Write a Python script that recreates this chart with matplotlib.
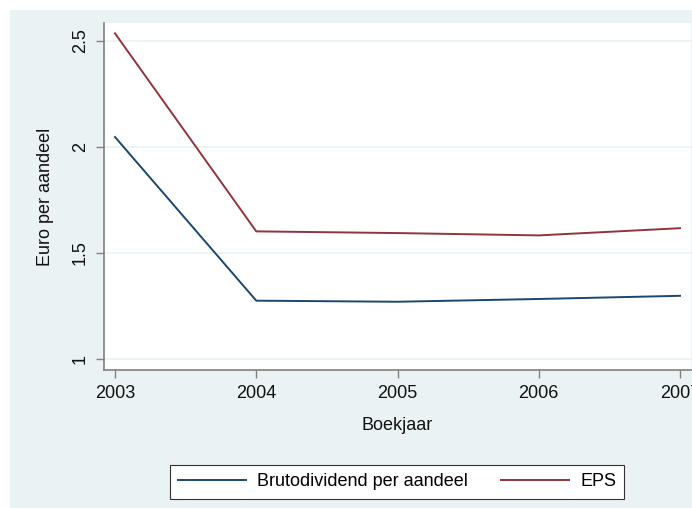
import matplotlib.pyplot as plt
from matplotlib.patches import Rectangle

plt.rcParams['font.family'] = ['Liberation Sans', 'DejaVu Sans']

years = [2003, 2004, 2005, 2006, 2007]
brutodividend = [2.047, 1.275, 1.270, 1.283, 1.298]
eps = [2.536, 1.602, 1.594, 1.583, 1.617]
yticks = [1, 1.5, 2, 2.5]
ytick_labels = ['1', '1.5', '2', '2.5']

navy = '#1a476f'
maroon = '#90353b'
bg = '#eaf2f3'
axis_grey = '#808080'

W, H = 692, 508
fig = plt.figure(figsize=(W / 100, H / 100), dpi=100, facecolor='white')

# Stata-like graph region (white strip at top and left)
fig.patches.append(Rectangle((10 / W, 0), 1, (H - 10) / H, transform=fig.transFigure,
                             facecolor=bg, edgecolor='none', zorder=-10))

left, right, top, bottom = 104, 691, 23, 370
ax = fig.add_axes([left / W, (H - bottom) / H, (right - left) / W, (bottom - top) / H])
ax.set_facecolor('white')
ax.set_zorder(1)

ax.plot(years, brutodividend, color=navy, lw=1.4, label='Brutodividend per aandeel')
ax.plot(years, eps, color=maroon, lw=1.4, label='EPS')

ax.set_xlim(2003 - 0.078, 2007 + 0.078)
ax.set_ylim(0.948, 2.585)
ax.set_xticks(years)
ax.set_yticks(yticks)
ax.set_yticklabels(ytick_labels, rotation=90, va='center')

ax.grid(axis='y', color=bg, lw=1.2)
ax.set_axisbelow(True)

for s in ['top', 'right']:
    ax.spines[s].set_visible(False)
for s in ['left', 'bottom']:
    ax.spines[s].set_color(axis_grey)
    ax.spines[s].set_linewidth(1.2)

ax.tick_params(axis='both', length=6, width=1, color=axis_grey, labelsize=13, labelcolor='#111111')
ax.tick_params(axis='y', pad=5)
ax.tick_params(axis='x', pad=5)

ax.set_xlabel('Boekjaar', fontsize=13, color='#111111')
ax.set_ylabel('Euro per aandeel', fontsize=13, color='#111111')
ax.xaxis.set_label_coords(0.5, (bottom - 425) / (bottom - top))
ax.xaxis.label.set_va('center')
ax.yaxis.set_label_coords((45 - left) / (right - left), 0.5)
ax.yaxis.label.set_va('center')

leg = fig.legend(loc='center', bbox_to_anchor=(397 / W, (H - 482) / H), ncol=2,
                 frameon=True, fancybox=False, fontsize=13, handlelength=3.8,
                 handletextpad=0.6, columnspacing=1.8, borderpad=0.45,
                 borderaxespad=0)
leg.get_frame().set_edgecolor('#333333')
leg.get_frame().set_linewidth(0.8)
leg.get_frame().set_facecolor('white')
leg.get_frame().set_alpha(1)

fig.savefig('out.png', dpi=100, facecolor='white')
